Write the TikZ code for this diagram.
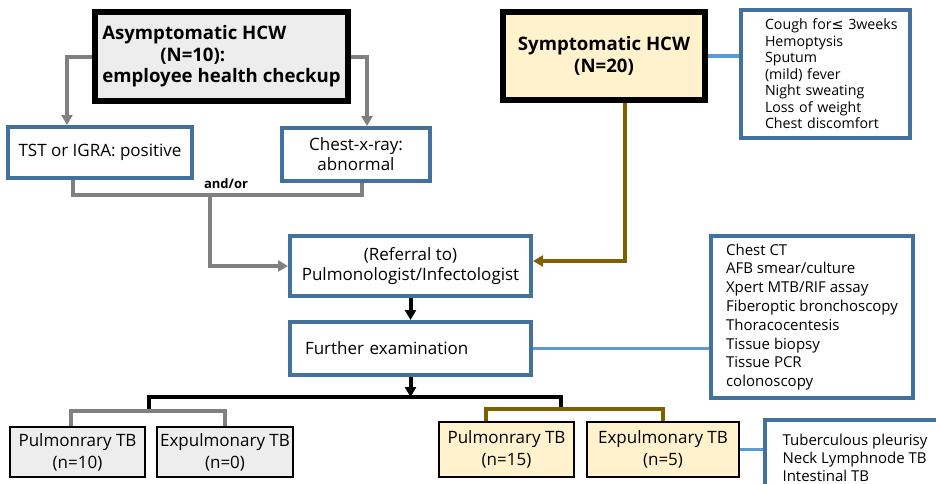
\documentclass[tikz,border=0pt]{standalone}
\usepackage{fontspec}
\setmainfont{Open Sans}
\newfontfamily\symfont{DejaVu Sans}
\usetikzlibrary{calc,arrows.meta,positioning}
\definecolor{boxblue}{HTML}{41719C}
\definecolor{lineblue}{HTML}{5B9BD5}
\definecolor{linegray}{HTML}{808080}
\definecolor{linebrown}{HTML}{7F6000}
\definecolor{fillgray}{HTML}{EDEDED}
\definecolor{fillyellow}{HTML}{FFF2CC}

\begin{document}
\begin{tikzpicture}[x=0.5pt,y=-0.5pt]
        \tikzset{
            hcwbox/.style={
                    draw=black,
                    line width=3pt,
                    font=\fontsize{9.3}{10.75}\selectfont\bfseries,
                    inner sep=0pt
                },
            bluebox/.style={
                    draw=boxblue,
                    line width=2pt,
                    fill=white,
                    align=center,
                    font=\fontsize{8.5}{10}\selectfont,
                    inner sep=0pt
                },
            listbox/.style={
                    draw=boxblue,
                    line width=2.2pt,
                    fill=white,
                    align=left,
                    inner sep=0pt
                },
            tbbox/.style={
                    draw=black,
                    line width=1pt,
                    align=center,
                    font=\fontsize{8.5}{11}\selectfont,
                    inner sep=0pt
                },
            grayline/.style={draw=linegray, line width=2pt},
            brownline/.style={draw=linebrown, line width=2pt},
            blackline/.style={draw=black, line width=2pt},
            blueline/.style={draw=lineblue, line width=1.8pt},
            tip/.style={-{Triangle[length=5pt,width=5.5pt]}}
        }
        \useasboundingbox (0,0) rectangle (936,483);
        \clip (0,0) rectangle (936,483);

        % top row
        \node[hcwbox, fill=fillgray, minimum width=126.5pt, minimum height=44.5pt, align=left] (asym) at (221.5,56.5)
            {Asymptomatic HCW\\\hspace*{29pt}(N=10):\\employee health checkup};
        \node[hcwbox, fill=fillyellow, minimum width=101pt, minimum height=44pt, align=center] (symp) at (604,56)
            {Symptomatic HCW\\(N=20)};
        \node[listbox, minimum width=84.5pt, minimum height=64pt, text width=60.5pt, inner xsep=12pt,
              font=\fontsize{7.1}{8.25}\selectfont] (symlist) at (825.5,74)
            {\mbox{Cough for{\symfont ≤} 3weeks}\\Hemoptysis\\Sputum\\(mild) fever\\Night sweating\\Loss of weight\\Chest discomfort};

        \node[bluebox, minimum width=92pt, minimum height=25.5pt] (tst) at (100,152.5) {TST or IGRA: positive};
        \node[bluebox, minimum width=74pt, minimum height=26.5pt] (cxr) at (356,154.5) {Chest-x-ray:\\abnormal};

        \node[bluebox, minimum width=120.5pt, minimum height=30pt] (refer) at (410.5,266)
            {(Referral to)\\Pulmonologist/Infectologist};
        \node[bluebox, minimum width=120.5pt, minimum height=26.5pt, text width=105.5pt, inner xsep=7.5pt, align=left] (further) at (410.5,348.5)
            {Further examination};
        \node[listbox, minimum width=101pt, minimum height=81pt, font=\fontsize{7.5}{9.4}\selectfont] (tests) at (812,317)
            {Chest CT\\AFB smear/culture\\Xpert MTB/RIF assay\\Fiberoptic bronchoscopy\\Thoracocentesis\\Tissue biopsy\\Tissue PCR\\colonoscopy};

        % results
        \node[tbbox, fill=fillgray, minimum width=67.5pt, minimum height=25pt] (pulA) at (77.5,452) {Pulmonrary TB\\(n=10)};
        \node[tbbox, fill=fillgray, minimum width=68pt, minimum height=25pt] (expA) at (225,452) {Expulmonary TB\\(n=0)};
        \node[tbbox, fill=fillyellow, minimum width=67.5pt, minimum height=27.5pt] (pulS) at (506.5,449.5) {Pulmonrary TB\\(n=15)};
        \node[tbbox, fill=fillyellow, minimum width=76pt, minimum height=27.5pt] (expS) at (663,449.5) {Expulmonary TB\\(n=5)};
        \node[listbox, minimum width=90pt, minimum height=37.5pt, font=\fontsize{7.5}{9}\selectfont] (tbtypes) at (855,457.5)
            {Tuberculous pleurisy\\Neck Lymphnode TB\\Intestinal TB};

        % connectors
        \coordinate (andor) at (210,195);
        \coordinate (split) at (410.5,397);
        \coordinate (gmid) at (149,411);
        \coordinate (bmid) at (561,409);

        \draw[grayline, tip] (asym.west) -| ($(tst.north)+(-33,0)$);
        \draw[grayline, tip] (asym.east) -| ($(cxr.north)+(11,0)$);
        \draw[grayline] ($(tst.south)+(-27,0)$) |- (andor) -| ($(cxr.south)+(6,0)$);
        \node[font=\fontsize{6.5}{7}\selectfont\bfseries, inner sep=1pt] (andortext) at (226,184) {and/or};
        \draw[grayline, tip] (andor) |- (refer.west);

        \draw[brownline, tip] ($(symp.south)+(21,0)$) |- ($(refer.east)+(0,-5)$);
        \draw[blueline] (symp.east) -- (symp.east -| symlist.west);
        \draw[blueline] (further.east) -- (further.east -| tests.west);
        \draw[blueline] (expS.east) -- (expS.east -| tbtypes.west);

        \draw[blackline, tip] (refer.south) -- (further.north);
        \draw[blackline, tip] (further.south) -- (split);
        \draw[blackline] (gmid) |- (split) -| (bmid);
        \draw[grayline] ($(pulA.north)+(-7,0)$) |- (gmid) -| (expA.north);
        \draw[brownline] ($(pulS.north)+(-20.5,0)$) |- (bmid) -| (expS.north);
\end{tikzpicture}
\end{document}
